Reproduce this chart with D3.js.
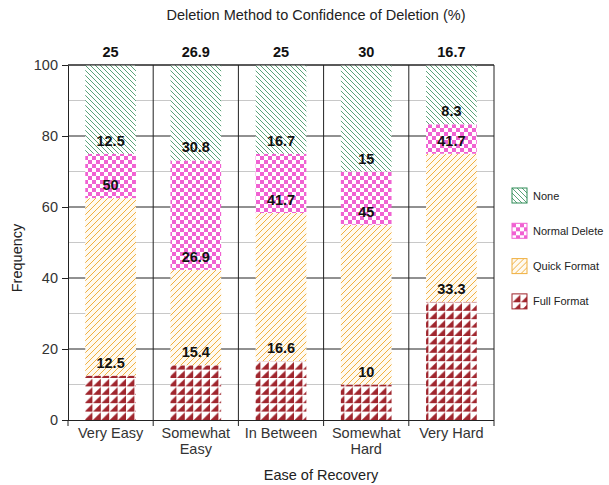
<!DOCTYPE html>
<html><head><meta charset="utf-8">
<script src="https://cdn.jsdelivr.net/npm/d3@7"></script>
<style>
body{margin:0;background:#fff;}
svg{display:block;font-family:"Liberation Sans",Arial,sans-serif;}
</style></head>
<body><svg id="chart" width="609" height="485"></svg>
<script>
const categories = ["Very Easy","Somewhat Easy","In Between","Somewhat Hard","Very Hard"];
const categoryLines = [["Very Easy"],["Somewhat","Easy"],["In Between"],["Somewhat","Hard"],["Very Hard"]];
const seriesNames = ["Full Format","Quick Format","Normal Delete","None"];
const fullFormat = [12.5,15.4,16.6,10,33.3];
const quickFormat = [50,26.9,41.7,45,41.7];
const normalDelete = [12.5,30.8,16.7,15,8.3];
const none = [25,26.9,25,30,16.7];
const yTicks = [0,20,40,60,80,100];
const yMinor = [10,30,50,70,90];

const svg = d3.select("#chart");
const L=68, R=494, T=65, B=420;
const x = d3.scaleBand().domain(categories).range([L,R]).padding(0);
const y = d3.scaleLinear().domain([0,100]).range([B,T]);
const barW = x.bandwidth()*0.595;

const seriesKeys = ["full","quick","normal","none"];
const table = categories.map((c,i)=>({cat:c, full:fullFormat[i], quick:quickFormat[i], normal:normalDelete[i], none:none[i]}));
const stacked = d3.stack().keys(seriesKeys)(table);

// patterns
const defs = svg.append("defs");
const pNone = defs.append("pattern").attr("id","p-none").attr("patternUnits","userSpaceOnUse").attr("width",5).attr("height",5);
pNone.append("rect").attr("width",5).attr("height",5).attr("fill","#fff");
pNone.append("path").attr("d","M0,0L5,5M-1,4L1,6M4,-1L6,1").attr("stroke","#2e8b57").attr("stroke-width",0.8);

const pQuick = defs.append("pattern").attr("id","p-quick").attr("patternUnits","userSpaceOnUse").attr("width",6).attr("height",6);
pQuick.append("rect").attr("width",6).attr("height",6).attr("fill","#fffaf0");
pQuick.append("path").attr("d","M0,6L6,0M-1,1L1,-1M5,7L7,5").attr("stroke","#f0b040").attr("stroke-width",1);

const pNormal = defs.append("pattern").attr("id","p-normal").attr("patternUnits","userSpaceOnUse").attr("width",8).attr("height",8);
pNormal.append("rect").attr("width",8).attr("height",8).attr("fill","#fff");
pNormal.append("rect").attr("width",4).attr("height",4).attr("fill","#f062d2");
pNormal.append("rect").attr("x",4).attr("y",4).attr("width",4).attr("height",4).attr("fill","#f062d2");

const pFull = defs.append("pattern").attr("id","p-full").attr("patternUnits","userSpaceOnUse").attr("width",8.4).attr("height",8.4);
pFull.append("rect").attr("width",8.4).attr("height",8.4).attr("fill","#fff");
pFull.append("path").attr("d","M0.6,8.4L8.4,0.6L8.4,8.4Z").attr("fill","#a0262e");

const fills = {full:"url(#p-full)", quick:"url(#p-quick)", normal:"url(#p-normal)", none:"url(#p-none)"};
const strokes = {full:"#a0262e", quick:"#f0b040", normal:"#f062d2", none:"#2e8b57"};

// gridlines
svg.append("g").selectAll("line").data(yMinor).join("line")
  .attr("x1",L).attr("x2",R).attr("y1",d=>y(d)).attr("y2",d=>y(d))
  .attr("stroke","#c8c8c8").attr("stroke-width",1);
svg.append("g").selectAll("line").data(yTicks.filter(d=>d>0)).join("line")
  .attr("x1",L).attr("x2",R).attr("y1",d=>y(d)).attr("y2",d=>y(d))
  .attr("stroke","#222").attr("stroke-width",1);
// vertical boundaries
const bounds = categories.slice(1).map(c=>x(c)).concat([R]);
svg.append("g").selectAll("line").data(bounds).join("line")
  .attr("x1",d=>d).attr("x2",d=>d).attr("y1",T).attr("y2",B+6)
  .attr("stroke","#222").attr("stroke-width",1);

// bars
const g = svg.append("g");
stacked.forEach(s=>{
  g.append("g").selectAll("rect").data(s).join("rect")
    .attr("x",d=>x(d.data.cat)+(x.bandwidth()-barW)/2)
    .attr("width",barW)
    .attr("y",d=>y(d[1]))
    .attr("height",d=>y(d[0])-y(d[1]))
    .attr("fill",fills[s.key]);
});
// value labels
stacked.forEach(s=>{
  g.append("g").selectAll("text").data(s).join("text")
    .attr("x",d=>x(d.data.cat)+x.bandwidth()/2)
    .attr("y",d=>y(d[1])-8)
    .attr("text-anchor","middle")
    .attr("font-size","14.5px").attr("font-weight","bold").attr("fill","#111")
    .text(d=>d.data[s.key]);
});

// y axis
const yAxis = svg.append("g").attr("transform",`translate(${L},0)`)
  .call(d3.axisLeft(y).tickValues(yTicks).tickSize(6).tickPadding(4).tickSizeOuter(0));
yAxis.selectAll("text").attr("font-size","14.5px").attr("fill","#333").attr("font-family","Liberation Sans, Arial, sans-serif");
yAxis.selectAll("line").attr("stroke","#222");
yAxis.select(".domain").attr("stroke","#222");

// x axis
const xAxis = svg.append("g").attr("transform",`translate(0,${B})`)
  .call(d3.axisBottom(x).tickSize(0).tickSizeOuter(0).tickFormat(()=>""));
xAxis.select(".domain").attr("stroke","#222").attr("d",`M${L},0.5H${R}`);
xAxis.append("line").attr("x1",L).attr("x2",L).attr("y1",0).attr("y2",6).attr("stroke","#222");
xAxis.selectAll(".tick").each(function(d,i){
  const t = d3.select(this).append("text").attr("fill","#333").attr("font-size","14.5px")
    .attr("text-anchor","middle").attr("font-family","Liberation Sans, Arial, sans-serif");
  categoryLines[i].forEach((ln,j)=>{
    t.append("tspan").attr("x",0).attr("y",18+j*15.7).text(ln);
  });
});
// top border
svg.append("line").attr("x1",L).attr("x2",R).attr("y1",T).attr("y2",T).attr("stroke","#222");

// titles
svg.append("text").attr("x",316).attr("y",20).attr("text-anchor","middle")
  .attr("font-size","14.5px").attr("fill","#222").text("Deletion Method to Confidence of Deletion (%)");
svg.append("text").attr("x",321).attr("y",480).attr("text-anchor","middle")
  .attr("font-size","14.5px").attr("fill","#222").text("Ease of Recovery");
svg.append("text").attr("transform","translate(22,258) rotate(-90)").attr("text-anchor","middle")
  .attr("font-size","14.5px").attr("fill","#222").text("Frequency");

// legend
const legendOrder = ["none","normal","quick","full"];
const legendLabels = {none:"None",normal:"Normal Delete",quick:"Quick Format",full:"Full Format"};
const lg = svg.append("g").selectAll("g").data(legendOrder).join("g")
  .attr("transform",(d,i)=>`translate(512,${188+i*35.3})`);
lg.append("rect").attr("width",15).attr("height",15).attr("fill",d=>fills[d]).attr("stroke",d=>strokes[d]).attr("stroke-width",1);
lg.append("text").attr("x",21).attr("y",11.5).attr("font-size","11px").attr("fill","#222").text(d=>legendLabels[d]);
</script></body></html>
